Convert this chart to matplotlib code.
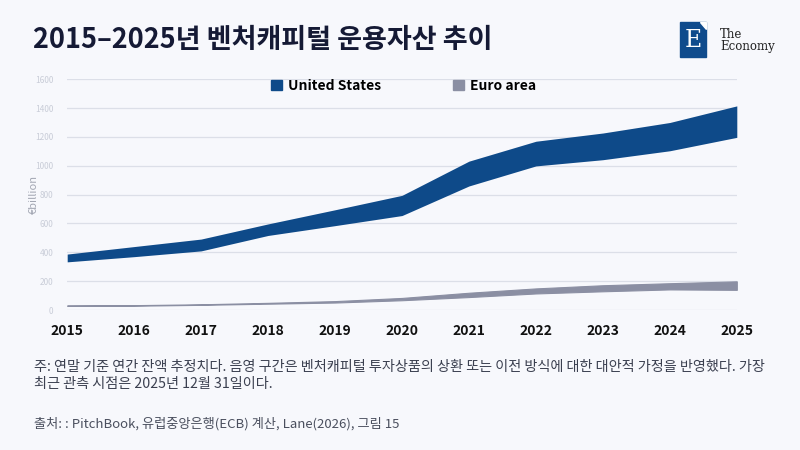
import matplotlib.pyplot as plt
from matplotlib.patches import Patch, Rectangle, Polygon

plt.rcParams['font.family'] = ['Noto Sans CJK KR', 'DejaVu Sans']

years = [2015, 2016, 2017, 2018, 2019, 2020, 2021, 2022, 2023, 2024, 2025]
# 미국: 음영 구간 상단/하단 (€bn)
us_high = [388, 440, 492, 597, 695, 795, 1032, 1170, 1227, 1300, 1415]
us_low = [334, 370, 410, 517, 585, 655, 860, 999, 1042, 1104, 1197]
# 유로 지역
ea_high = [32, 34, 40, 50, 62, 84, 120, 150, 172, 186, 199]
ea_low = [29, 30, 36, 44, 52, 68, 90, 115, 130, 143, 140]

title = '2015–2025년 벤처캐피털 운용자산 추이'
note = ('주: 연말 기준 연간 잔액 추정치다. 음영 구간은 벤처캐피털 투자상품의 상환 또는 이전 방식에 대한 대안적 가정을 반영했다. 가장\n'
        '최근 관측 시점은 2025년 12월 31일이다.')
source = '출처: : PitchBook, 유럽중앙은행(ECB) 계산, Lane(2026), 그림 15'

bg = '#f7f8fc'
us_color = '#0e4a89'
ea_color = '#8b8fa3'

fig = plt.figure(figsize=(8, 4.5), dpi=100, facecolor=bg)
ax = fig.add_axes([0.084, 0.311, 0.837, 0.513], facecolor=bg)

ax.fill_between(years, us_low, us_high, color=us_color, linewidth=0)
ax.fill_between(years, ea_low, ea_high, color=ea_color, linewidth=0.8, edgecolor=ea_color)

ax.set_xlim(2015, 2025)
ax.set_ylim(0, 1600)
ax.set_yticks(range(0, 1601, 200))
ax.set_xticks(years)
ax.grid(axis='y', color='#dcdfe8', linewidth=0.9)
ax.set_axisbelow(True)
for s in ax.spines.values():
    s.set_visible(False)
ax.tick_params(axis='y', length=0, labelsize=6, labelcolor='#c9cdd8', pad=10)
ax.tick_params(axis='x', length=0, labelsize=10, pad=10)
for lab in ax.get_xticklabels():
    lab.set_fontweight('bold')
    lab.set_color('#111111')
ax.set_ylabel('€billion', fontsize=8, color='#a3a7b3', labelpad=-3)

handles = [Patch(color=us_color, label='United States'),
           Patch(color=ea_color, label='Euro area')]
ax.legend(handles=handles, loc='upper center', bbox_to_anchor=(0.502, 1.055), ncol=2,
          frameon=False, handlelength=0.8, handleheight=0.8, handletextpad=0.4,
          columnspacing=5.2, prop={'weight': 'bold', 'size': 10})

fig.text(0.041, 0.912, title, fontsize=19.5, fontweight='heavy', color='#151a35', va='center')

# 로고
fig.patches.append(Rectangle((0.85, 0.873), 0.0325, 0.078, transform=fig.transFigure,
                             color='#0f4b8c'))
fig.patches.append(Polygon([(0.8755, 0.951), (0.8825, 0.951), (0.8825, 0.935)], closed=True,
                           transform=fig.transFigure, color='white'))
fig.text(0.8662, 0.91, 'E', fontsize=17, family='DejaVu Serif', color='white',
         ha='center', va='center')
fig.text(0.9, 0.924, 'The', fontsize=8.5, family='DejaVu Serif', color='#222222', va='center')
fig.text(0.9, 0.897, 'Economy', fontsize=8.5, family='DejaVu Serif', color='#222222', va='center')

fig.text(0.043, 0.165, note, fontsize=10.2, color='#3b4050', va='center', linespacing=1.28)
fig.text(0.043, 0.058, source, fontsize=9.5, color='#4a4f5e', va='center')

fig.savefig('out.png', dpi=100, facecolor=bg)
